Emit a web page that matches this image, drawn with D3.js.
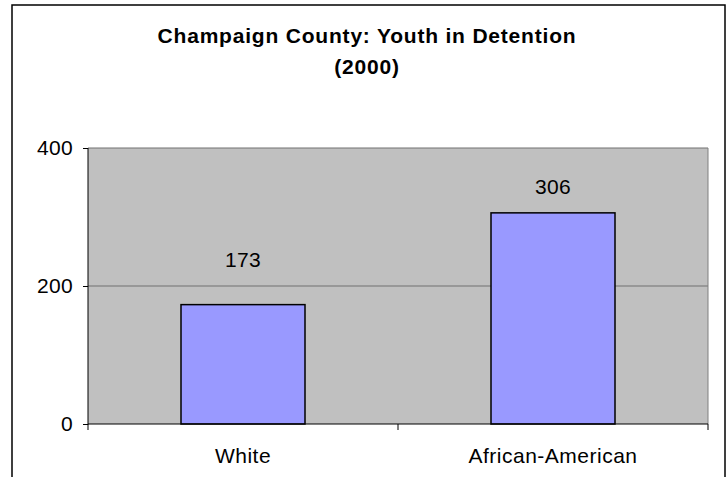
<!DOCTYPE html>
<html>
<head>
<meta charset="utf-8">
<script src="https://cdn.jsdelivr.net/npm/d3@7"></script>
<style>
  html, body { margin: 0; padding: 0; background: #fff; }
  svg { display: block; font-family: "Liberation Sans", Arial, sans-serif; }
</style>
</head>
<body>
<svg id="chart" width="728" height="477"></svg>
<script>
const categories = ["White", "African-American"];
const values = [173, 306];
const yTicks = [0, 200, 400];
const titleLines = ["Champaign County:  Youth in Detention", "(2000)"];

const svg = d3.select("#chart");
const plot = { left: 88, right: 708, top: 148, bottom: 424 };

// outer chart border
svg.append("rect")
  .attr("x", 12).attr("y", 5)
  .attr("width", 713).attr("height", 490)
  .attr("fill", "#fff").attr("stroke", "#000").attr("stroke-width", 1.5);

// title
svg.append("g").selectAll("text").data(titleLines).join("text")
  .attr("x", 367).attr("y", (d, i) => 43 + i * 31)
  .attr("text-anchor", "middle")
  .attr("font-size", 21).attr("font-weight", "bold")
  .attr("letter-spacing", 0.8)
  .attr("fill", "#000")
  .text(d => d);

const x = d3.scaleBand().domain(categories)
  .range([plot.left, plot.right]).paddingInner(0.6).paddingOuter(0.3);
const xCat = d3.scaleBand().domain(categories).range([plot.left, plot.right]);
const y = d3.scaleLinear().domain([0, 400]).range([plot.bottom, plot.top]);

// plot area
svg.append("rect")
  .attr("x", plot.left).attr("y", plot.top)
  .attr("width", plot.right - plot.left).attr("height", plot.bottom - plot.top)
  .attr("fill", "#C0C0C0");

// gridlines
svg.append("g").selectAll("line").data(yTicks.filter(t => t > 0)).join("line")
  .attr("x1", plot.left).attr("x2", plot.right)
  .attr("y1", d => y(d)).attr("y2", d => y(d))
  .attr("stroke", "#707070").attr("stroke-width", 1);

// right edge of plot area
svg.append("line")
  .attr("x1", plot.right).attr("x2", plot.right)
  .attr("y1", plot.top).attr("y2", plot.bottom)
  .attr("stroke", "#808080").attr("stroke-width", 1);

// bars
svg.append("g").selectAll("rect").data(values).join("rect")
  .attr("x", (d, i) => x(categories[i]))
  .attr("y", d => y(d))
  .attr("width", x.bandwidth())
  .attr("height", d => y(0) - y(d))
  .attr("fill", "#9999FF")
  .attr("stroke", "#000").attr("stroke-width", 1.5);

// value labels
const labelOffsets = [38, 19];
svg.append("g").selectAll("text").data(values).join("text")
  .attr("x", (d, i) => x(categories[i]) + x.bandwidth() / 2)
  .attr("y", (d, i) => y(d) - labelOffsets[i])
  .attr("text-anchor", "middle")
  .attr("font-size", 21).attr("letter-spacing", 0.3).attr("fill", "#000")
  .text(d => d);

// y axis
const yAxis = d3.axisLeft(y).tickValues(yTicks).tickSize(5).tickPadding(10);
const gy = svg.append("g").attr("transform", `translate(${plot.left},0)`).call(yAxis);
gy.select(".domain").attr("stroke", "#000").attr("d", `M0,${plot.top}V${plot.bottom + 0.5}`);
gy.selectAll(".tick line").attr("stroke", "#000");
gy.selectAll(".tick text").attr("font-size", 21).attr("letter-spacing", 0.3).attr("fill", "#000")
  .attr("font-family", "Liberation Sans, Arial, sans-serif");

// x axis
svg.append("line")
  .attr("x1", plot.left).attr("x2", plot.right)
  .attr("y1", plot.bottom).attr("y2", plot.bottom)
  .attr("stroke", "#000").attr("stroke-width", 1);
const xTickPos = categories.map(c => xCat(c)).concat([plot.right]);
svg.append("g").selectAll("line").data(xTickPos).join("line")
  .attr("x1", d => d).attr("x2", d => d)
  .attr("y1", plot.bottom).attr("y2", plot.bottom + 6)
  .attr("stroke", "#000").attr("stroke-width", 1);
svg.append("g").selectAll("text").data(categories).join("text")
  .attr("x", d => xCat(d) + xCat.bandwidth() / 2)
  .attr("y", 463)
  .attr("text-anchor", "middle")
  .attr("font-size", 21).attr("letter-spacing", 0.5).attr("fill", "#000")
  .text(d => d);
</script>
</body>
</html>
